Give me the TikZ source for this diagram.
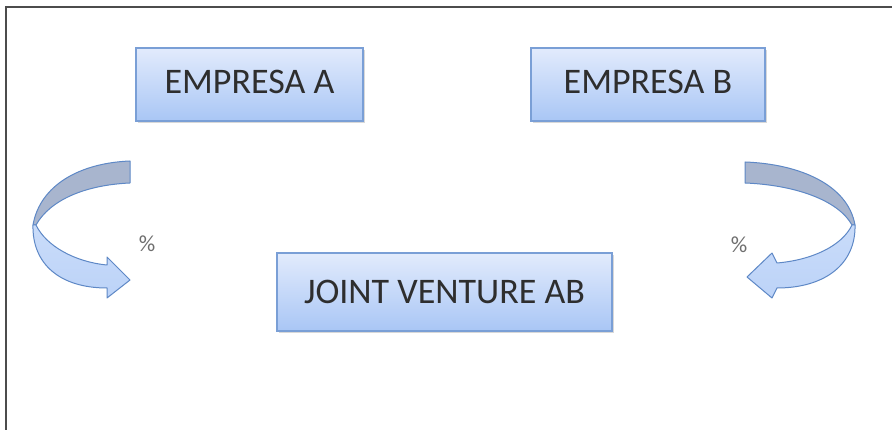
\documentclass[tikz,border=0pt]{standalone}
\usepackage{fontspec}
\setmainfont{Carlito}
\usetikzlibrary{shadows}
\definecolor{boxline}{HTML}{7A9FD6}
\definecolor{boxtop}{HTML}{E2EBFC}
\definecolor{boxbot}{HTML}{A9C6F5}
\definecolor{txt}{HTML}{2E2E2E}
\definecolor{backband}{HTML}{A8B5CE}
\definecolor{frontband}{HTML}{BCD3F8}
\definecolor{bandline}{HTML}{5E88C6}
\definecolor{pct}{HTML}{6E6E6E}
\tikzset{
  entity/.style={draw=boxline, line width=1.2pt, top color=boxtop, bottom color=boxbot,
    text=txt, font=\fontsize{36}{40}\selectfont, inner sep=0pt,
    drop shadow={shadow xshift=1.5pt, shadow yshift=-2.5pt, opacity=0.3}},
  back/.style={fill=backband, draw=bandline, line width=1pt, line join=round},
  front/.style={top color=frontband!80!white, bottom color=frontband, draw=bandline, line width=1pt, line join=round},
  pctlabel/.style={text=pct, font=\fontsize{23}{24}\selectfont, inner sep=0pt}
}
\begin{document}
\begin{tikzpicture}[x=1pt,y=-1pt]
\useasboundingbox (0,0) rectangle (892,430);
\fill[white] (0,0) rectangle (892,430);
% frame
\draw[line width=2.2pt, color=black!70] (6,430) -- (6,7) -- (892,7);
% boxes
\node[entity, minimum width=227pt, minimum height=73pt] (A) at (249.5,84.5) {\raisebox{6pt}{EMPRESA A}};
\node[entity, minimum width=234pt, minimum height=73pt] (B) at (648,84.5) {\raisebox{6pt}{EMPRESA B}};
\node[entity, minimum width=335pt, minimum height=78pt] (JV) at (444.5,292) {JOINT VENTURE AB};
% left curved arrow
\draw[back] (130,161) .. controls (80,163) and (40,185) .. (33,225)
  -- (36,225) .. controls (50,200) and (85,185) .. (130,183) -- cycle;
\draw[front] (33,225) .. controls (32,264) and (60,288) .. (107,288)
  -- (107,298) -- (130,280) -- (107,257) -- (107,265)
  .. controls (75,262) and (46,246) .. (36,225) -- cycle;
% right curved arrow
\draw[back] (745,162) .. controls (800,164) and (848,185) .. (855,225)
  -- (852,225) .. controls (838,200) and (795,185) .. (745,183) -- cycle;
\draw[front] (855,225) .. controls (856,264) and (825,288) .. (777,288)
  -- (772,298) -- (747,277) -- (772,253) -- (777,263)
  .. controls (812,260) and (842,246) .. (852,225) -- cycle;
% percentage labels
\node[pctlabel] (pL) at (147,244) {\%};
\node[pctlabel] (pR) at (739,245) {\%};
\end{tikzpicture}
\end{document}
